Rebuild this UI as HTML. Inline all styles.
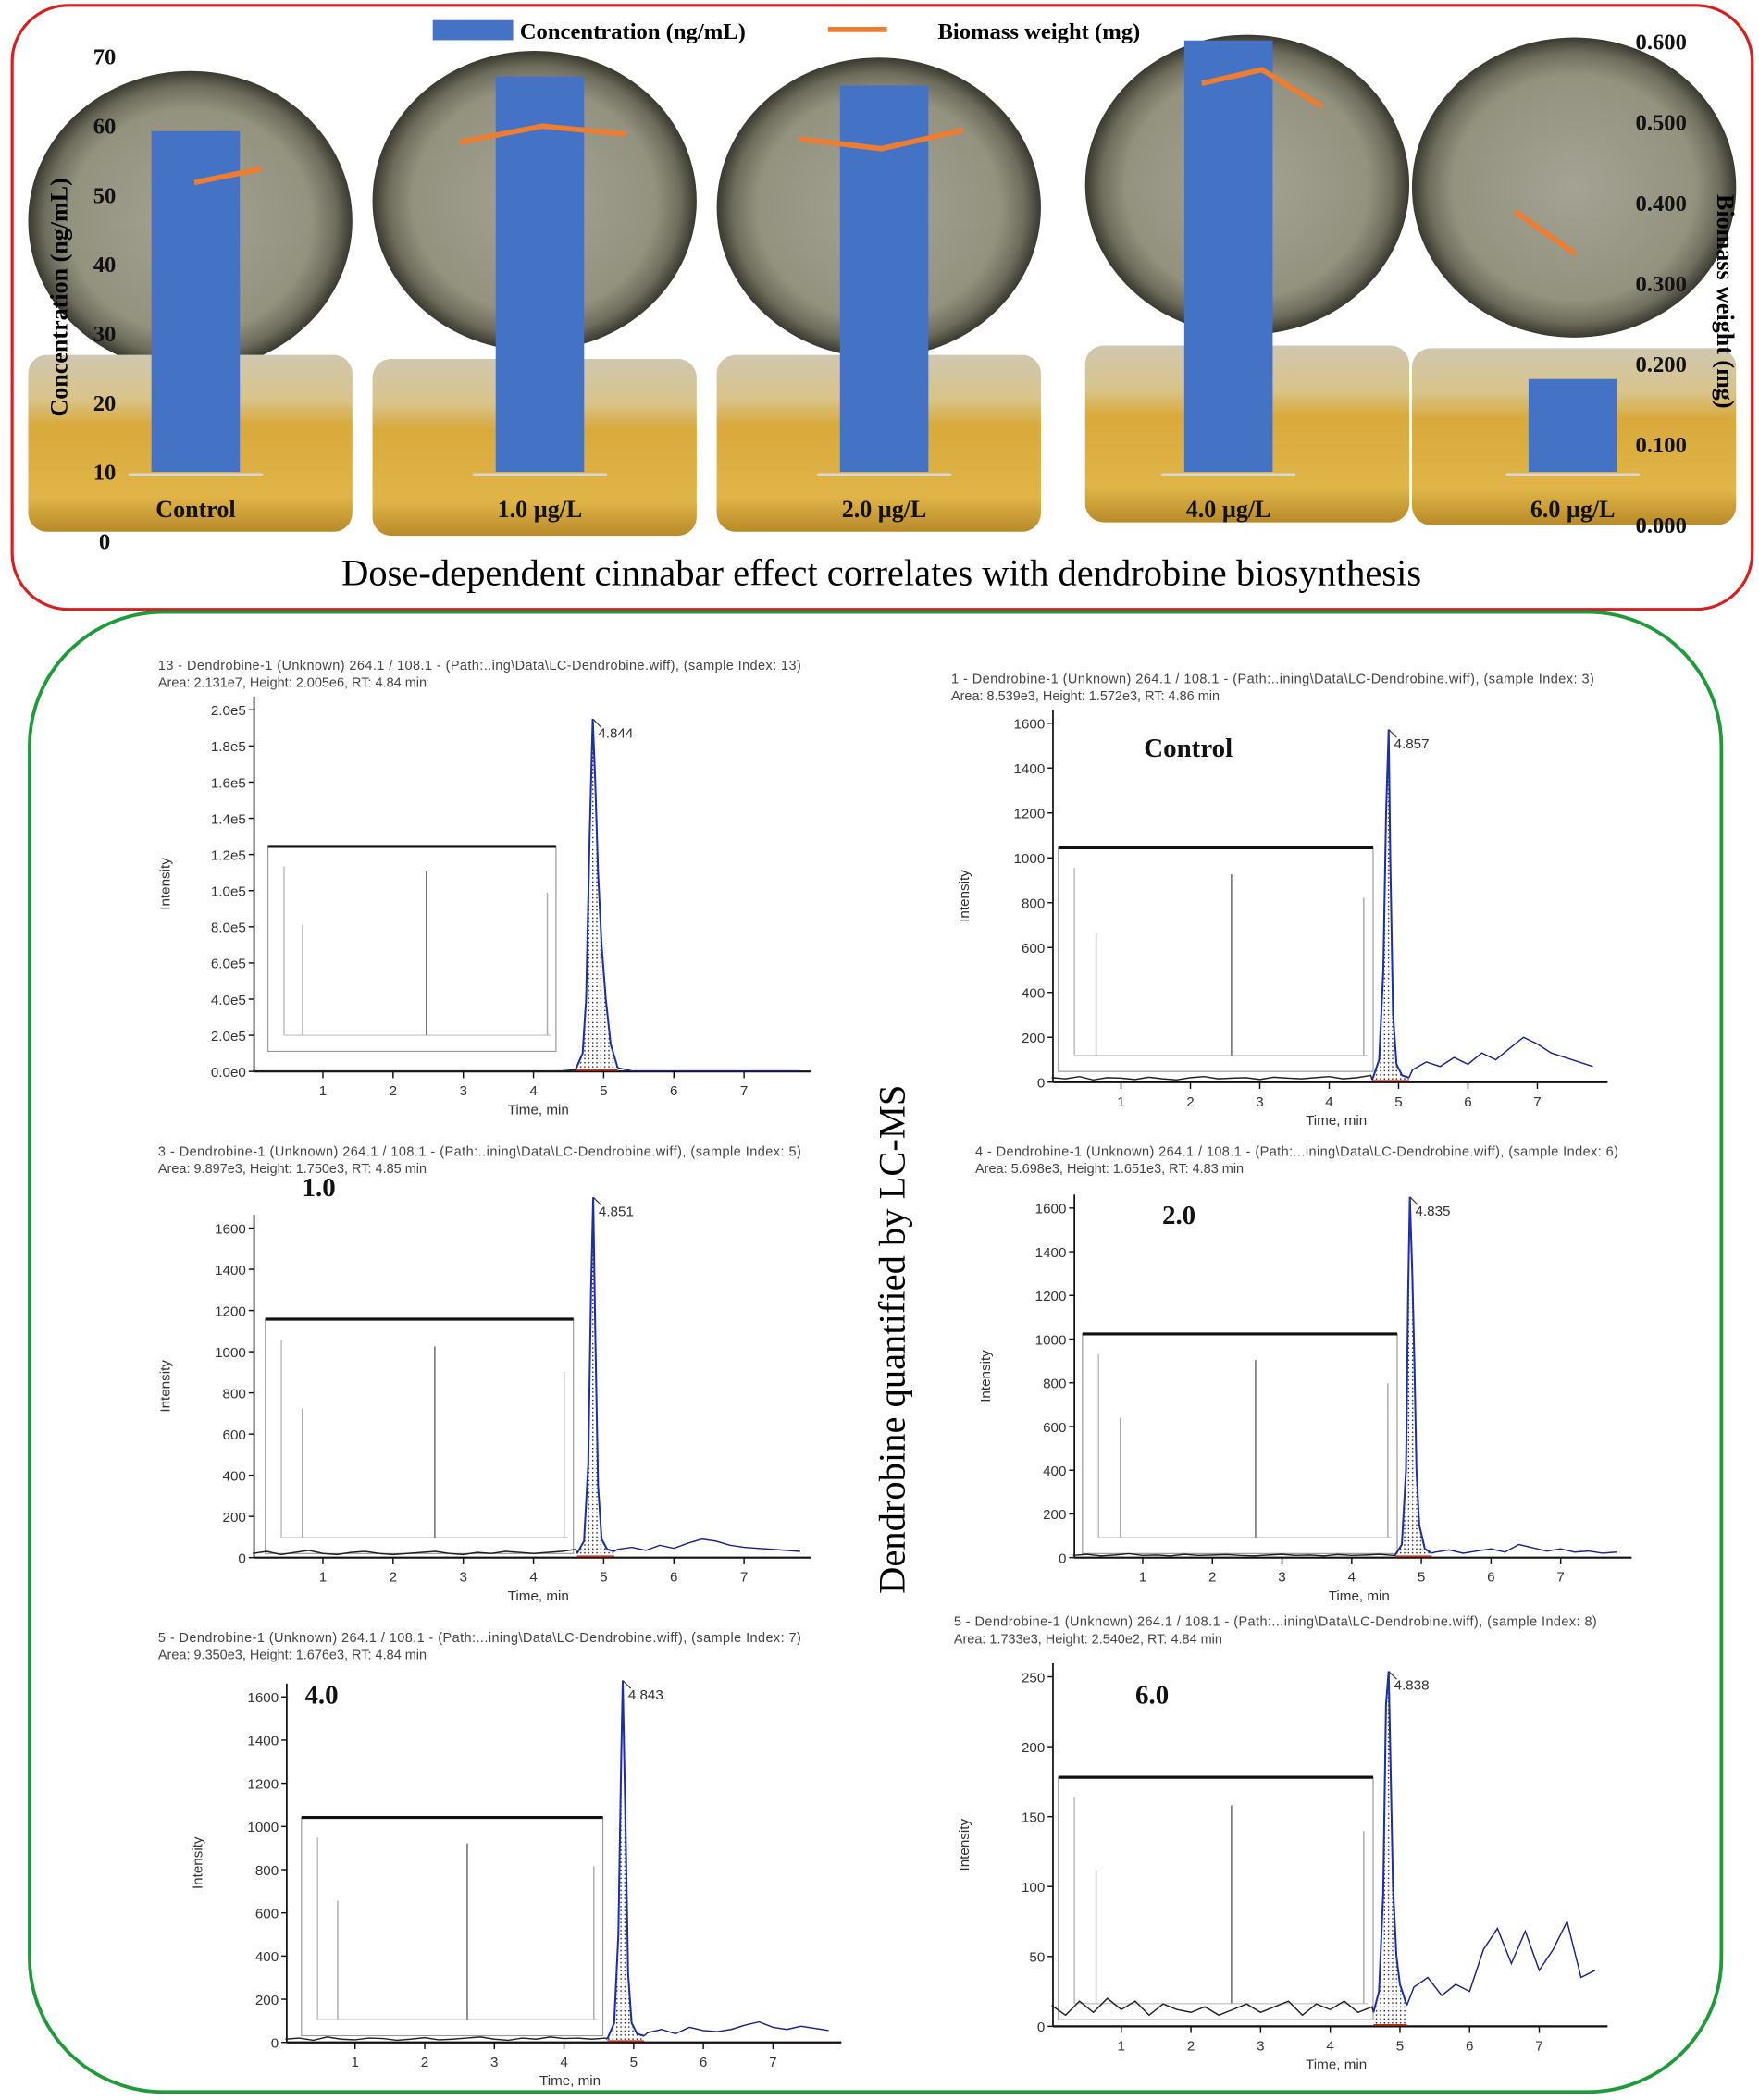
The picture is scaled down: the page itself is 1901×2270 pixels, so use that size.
<!DOCTYPE html>
<html><head><meta charset="utf-8"><title>Cinnabar dose effect and dendrobine LC-MS</title>
<style>
html,body{margin:0;padding:0;background:#fff;}
svg{display:block;}
.ser{font-family:"Liberation Serif",serif;}
.sans{font-family:"Liberation Sans",sans-serif;}
</style></head>
<body>
<svg id="fig" width="1901" height="2270" viewBox="0 0 1313 1568" xmlns="http://www.w3.org/2000/svg">
<defs>
<radialGradient id="dish" cx="50%" cy="50%" r="50%">
<stop offset="0" stop-color="#a4a394"/><stop offset="0.75" stop-color="#93927f"/><stop offset="0.9" stop-color="#6e6c5c"/><stop offset="1" stop-color="#3a3930"/>
</radialGradient>
<linearGradient id="beaker" x1="0" y1="0" x2="0" y2="1">
<stop offset="0" stop-color="#cfc7b0"/><stop offset="0.25" stop-color="#d8c48a"/><stop offset="0.4" stop-color="#d9a93c"/><stop offset="0.8" stop-color="#e0b548"/><stop offset="1" stop-color="#b88a2a"/>
</linearGradient>
<pattern id="dots" width="3" height="3" patternUnits="userSpaceOnUse"><circle cx="1.5" cy="1.5" r="0.55" fill="#222"/></pattern>
</defs>
<rect x="0" y="0" width="1313" height="1568" fill="#fff"/>
<rect x="9" y="4" width="1299" height="451" rx="42" fill="none" stroke="#d42020" stroke-width="2.2"/>
<rect x="22" y="457" width="1263" height="1105" rx="100" fill="none" stroke="#1f9a3a" stroke-width="2.6"/>
<g id="photos"></g>
<g id="topchart"></g>
<text class="ser" x="658" y="437" font-size="28" text-anchor="middle">Dose-dependent cinnabar effect correlates with dendrobine biosynthesis</text>
<text class="ser" x="0" y="0" font-size="28" text-anchor="middle" transform="translate(675,1000) rotate(-90)">Dendrobine quantified by LC-MS</text>
<g id="chroms"></g>
</svg>
<script>
// ---------- TOP CHART DATA ----------
const categories = ["Control", "1.0 µg/L", "2.0 µg/L", "4.0 µg/L", "6.0 µg/L"];
const concValues = [59.2, 67.1, 65.8, 72.3, 23.4];
const concTicks = [0, 10, 20, 30, 40, 50, 60, 70];
const bioTicks = [0, 0.1, 0.2, 0.3, 0.4, 0.5, 0.6];
const bioControl = [0.425, 0.442];
const bio1 = [0.475, 0.495, 0.485];
const bio2 = [0.479, 0.467, 0.490];
const bio4 = [0.548, 0.565, 0.519];
const bio6 = [0.389, 0.336];
const bioSeries = [bioControl, bio1, bio2, bio4, bio6];

const NS = "http://www.w3.org/2000/svg";
function mk(tag, attrs, parent) {
  const e = document.createElementNS(NS, tag);
  for (const k in attrs) e.setAttribute(k, attrs[k]);
  parent.appendChild(e);
  return e;
}
const yConc = v => 404 - v * 5.17;
const yBio = v => 392 - v * 601.7;
const xBand = i => 146 + i * 257;

// photos
const photos = document.getElementById('photos');
const dishTop = [55, 40, 45, 28, 30];
const beakTop = [265, 268, 265, 258, 260];
for (let i = 0; i < 5; i++) {
  const cx = xBand(i) - 4 + (i === 3 ? 18 : 0) + (i === 4 ? 5 : 0);
  const d = mk('ellipse', {cx: cx, cy: dishTop[i] + 110, rx: 121, ry: 112, fill: 'url(#dish)'}, photos);
  
  
  const b = mk('rect', {x: cx - 121, y: beakTop[i], width: 242, height: 132, rx: 14, fill: 'url(#beaker)'}, photos);
  
  
}

const tc = document.getElementById('topchart');
concTicks.forEach(v => {
  const t = mk('text', {x: 78, y: yConc(v) + 6, 'font-size': 17, 'font-weight': 'bold', 'text-anchor': 'middle', class: 'ser', fill: '#111'}, tc);
  t.textContent = v;
  
  
});
bioTicks.forEach(v => {
  const t = mk('text', {x: 1240, y: yBio(v) + 6, 'font-size': 17, 'font-weight': 'bold', 'text-anchor': 'middle', class: 'ser', fill: '#111'}, tc);
  t.textContent = v.toFixed(3);
  
  
});
let lt = mk('text', {x: 0, y: 0, 'font-size': 18, 'font-weight': 'bold', 'text-anchor': 'middle', class: 'ser', transform: 'translate(50,222) rotate(-90)'}, tc);
lt.textContent = 'Concentration (ng/mL)';


let rt = mk('text', {x: 0, y: 0, 'font-size': 18, 'font-weight': 'bold', 'text-anchor': 'middle', class: 'ser', transform: 'translate(1282,225) rotate(90)'}, tc);
rt.textContent = 'Biomass weight (mg)';



const base = 10;
concValues.forEach((v, i) => {
  const cx = xBand(i);
  const bl = mk('line', {x1: cx - 50, x2: cx + 50, y1: yConc(base) + 2, y2: yConc(base) + 2, stroke: '#d8d8d8', 'stroke-width': 2}, tc);
  
  
  const r = mk('rect', {x: cx - 33, y: yConc(v), width: 66, height: yConc(base) - yConc(v), fill: '#4472c4'}, tc);
  
  
  const t = mk('text', {x: cx, y: 386, 'font-size': 18, 'font-weight': 'bold', 'text-anchor': 'middle', class: 'ser', fill: '#111'}, tc);
  t.textContent = categories[i];
  
  
});
const bioStart = [-1, -60, -63, -20, -43];
const bioStep = [50, 62, 61, 45, 45];
bioSeries.forEach((s, i) => {
  const pts = s.map((v, j) => (xBand(i) + bioStart[i] + j * bioStep[i]) + ',' + yBio(v)).join(' ');
  const p = mk('polyline', {points: pts, fill: 'none', stroke: '#ed7d31', 'stroke-width': 4}, tc);
  
  
});
let lg = mk('g', {}, tc);


let lr = mk('rect', {x: 323, y: 15, width: 60, height: 15, fill: '#4472c4'}, lg);


let ltx = mk('text', {x: 388, y: 29, 'font-size': 17, 'font-weight': 'bold', class: 'ser'}, lg);
ltx.textContent = 'Concentration (ng/mL)';


let ll = mk('line', {x1: 618, x2: 662, y1: 22, y2: 22, stroke: '#ed7d31', 'stroke-width': 4}, lg);


let ltx2 = mk('text', {x: 700, y: 29, 'font-size': 17, 'font-weight': 'bold', class: 'ser'}, lg);
ltx2.textContent = 'Biomass weight (mg)';



// ---------- CHROMATOGRAM DATA ----------
const xTicks = [1, 2, 3, 4, 5, 6, 7];
const ticksP1 = [0, 0.2, 0.4, 0.6, 0.8, 1.0, 1.2, 1.4, 1.6, 1.8, 2.0];
const tickLabelsP1 = ["0.0e0", "2.0e5", "4.0e5", "6.0e5", "8.0e5", "1.0e5", "1.2e5", "1.4e5", "1.6e5", "1.8e5", "2.0e5"];
const ticks1600 = [0, 200, 400, 600, 800, 1000, 1200, 1400, 1600];
const ticksP6 = [0, 50, 100, 150, 200, 250];
const noiseP1 = [0.003,0.003,0.003,0.003,0.003,0.003,0.003,0.003,0.003,0.003,0.003,0.003,0.003,0.003,0.003,0.003,0.003,0.003,0.003,0.003,0.003,0.003,0.003,0.003,0.003,0.003,0.003,0.003,0.003,0.003,0.003,0.003,0.003,0.003,0.003,0.003,0.003,0.003,0.003,0.003];
const noiseP2 = [20,15,25,10,20,18,12,22,15,10,20,25,15,18,20,12,22,18,15,20,25,15,20,30,0,0,55,90,70,110,80,130,100,150,200,170,130,110,90,70];
const noiseP3 = [20,30,15,25,35,20,15,25,30,20,15,20,25,30,20,15,25,20,30,25,20,25,30,40,0,0,40,50,35,60,45,70,90,80,60,50,45,40,35,30];
const noiseP4 = [10,15,8,12,18,10,12,8,15,10,12,14,10,8,12,15,10,12,8,14,10,12,15,10,0,0,25,35,20,30,40,25,60,45,30,40,25,30,20,25];
const noiseP5 = [15,20,10,25,15,12,20,18,10,15,22,12,15,20,25,15,10,20,15,25,18,20,15,20,0,0,45,60,40,70,55,50,60,80,95,70,60,75,65,55];
const noiseP6 = [15,8,18,10,20,12,18,8,16,12,10,14,8,12,16,10,14,18,8,16,12,18,10,14,0,0,28,35,22,30,25,55,70,45,68,40,55,75,35,40];
const peakTP1 = [4.6,4.7,4.75,4.8,4.844,4.88,4.92,4.97,5.03,5.1,5.2];
const peakIP1 = [0.01,0.1,0.4,1.3,1.95,1.6,1.1,0.7,0.4,0.15,0.02];
const peakTP2 = [4.62,4.72,4.78,4.82,4.857,4.88,4.92,4.97,5.05,5.15];
const peakIP2 = [10,100,500,1200,1572,1000,300,80,30,20];
const peakTP3 = [4.62,4.72,4.78,4.82,4.851,4.88,4.92,4.97,5.05,5.15];
const peakIP3 = [20,80,450,1300,1750,1100,350,90,40,30];
const peakTP4 = [4.62,4.72,4.78,4.81,4.835,4.87,4.9,4.93,4.97,5.05,5.15];
const peakIP4 = [10,60,400,1200,1651,1300,900,400,150,40,20];
const peakTP5 = [4.62,4.72,4.78,4.82,4.843,4.88,4.92,4.97,5.05,5.15];
const peakIP5 = [15,90,500,1300,1676,1050,320,90,40,30];
const peakTP6 = [4.62,4.7,4.76,4.8,4.838,4.86,4.9,4.95,5.0,5.1];
const peakIP6 = [10,25,95,230,254,200,100,50,30,15];
const insetLines = [0.12, 0.55, 0.97];

const panels = [
 {x0: 188.6, ppm: 52.4, right: 605, bottom: 800, ypx: 270, yv: 2.0, ticks: ticksP1, labels: tickLabelsP1, noise: noiseP1, pt: peakTP1, pi: peakIP1, hx: 118, hy: 500,
  h1: "13 - Dendrobine-1 (Unknown) 264.1 / 108.1 - (Path:..ing\\Data\\LC-Dendrobine.wiff), (sample Index: 13)", h2: "Area: 2.131e7, Height: 2.005e6, RT: 4.84 min", peak: "4.844", tag: "", tx: 0, ty: 0, inset: [200, 632, 215, 153], name: 'chromatogram-standard'},
 {x0: 785, ppm: 51.8, right: 1200, bottom: 808, ypx: 268, yv: 1600, ticks: ticks1600, labels: ticks1600, noise: noiseP2, pt: peakTP2, pi: peakIP2, hx: 710, hy: 510,
  h1: "1 - Dendrobine-1 (Unknown) 264.1 / 108.1 - (Path:..ining\\Data\\LC-Dendrobine.wiff), (sample Index: 3)", h2: "Area: 8.539e3, Height: 1.572e3, RT: 4.86 min", peak: "4.857", tag: "Control", tx: 887, ty: 565, inset: [790, 633, 235, 167], name: 'chromatogram-control'},
 {x0: 188.6, ppm: 52.4, right: 605, bottom: 1163, ypx: 246, yv: 1600, ticks: ticks1600, labels: ticks1600, noise: noiseP3, pt: peakTP3, pi: peakIP3, hx: 118, hy: 863,
  h1: "3 - Dendrobine-1 (Unknown) 264.1 / 108.1 - (Path:..ining\\Data\\LC-Dendrobine.wiff), (sample Index: 5)", h2: "Area: 9.897e3, Height: 1.750e3, RT: 4.85 min", peak: "4.851", tag: "1.0", tx: 238, ty: 893, inset: [198, 985, 230, 175], name: 'chromatogram-1-0'},
 {x0: 801, ppm: 52, right: 1218, bottom: 1163, ypx: 261, yv: 1600, ticks: ticks1600, labels: ticks1600, noise: noiseP4, pt: peakTP4, pi: peakIP4, hx: 728, hy: 863,
  h1: "4 - Dendrobine-1 (Unknown) 264.1 / 108.1 - (Path:...ining\\Data\\LC-Dendrobine.wiff), (sample Index: 6)", h2: "Area: 5.698e3, Height: 1.651e3, RT: 4.83 min", peak: "4.835", tag: "2.0", tx: 880, ty: 914, inset: [808, 996, 235, 164], name: 'chromatogram-2-0'},
 {x0: 213, ppm: 52, right: 628, bottom: 1525, ypx: 258, yv: 1600, ticks: ticks1600, labels: ticks1600, noise: noiseP5, pt: peakTP5, pi: peakIP5, hx: 118, hy: 1226,
  h1: "5 - Dendrobine-1 (Unknown) 264.1 / 108.1 - (Path:...ining\\Data\\LC-Dendrobine.wiff), (sample Index: 7)", h2: "Area: 9.350e3, Height: 1.676e3, RT: 4.84 min", peak: "4.843", tag: "4.0", tx: 240, ty: 1272, inset: [225, 1357, 225, 163], name: 'chromatogram-4-0'},
 {x0: 785, ppm: 52, right: 1200, bottom: 1513, ypx: 261, yv: 250, ticks: ticksP6, labels: ticksP6, noise: noiseP6, pt: peakTP6, pi: peakIP6, hx: 712, hy: 1214,
  h1: "5 - Dendrobine-1 (Unknown) 264.1 / 108.1 - (Path:...ining\\Data\\LC-Dendrobine.wiff), (sample Index: 8)", h2: "Area: 1.733e3, Height: 2.540e2, RT: 4.84 min", peak: "4.838", tag: "6.0", tx: 860, ty: 1272, inset: [790, 1327, 235, 181], name: 'chromatogram-6-0'}
];

const ch = document.getElementById('chroms');
panels.forEach(P => {
  const g = mk('g', {}, ch);
  
  
  const X = t => P.x0 + t * P.ppm;
  const Y = v => P.bottom - v / P.yv * P.ypx;
  const topY = Y(P.ticks[P.ticks.length - 1]) - 10;
  const h1 = mk('text', {x: P.hx, y: P.hy, 'font-size': 10, class: 'sans', fill: '#444', textLength: 480}, g);
  h1.textContent = P.h1;
  
  
  const h2 = mk('text', {x: P.hx, y: P.hy + 13, 'font-size': 10, class: 'sans', fill: '#444'}, g);
  h2.textContent = P.h2;
  
  
  const [ix, iy, iw, ih] = P.inset;
  const ir = mk('rect', {x: ix, y: iy, width: iw, height: ih, fill: '#fff', stroke: '#999', 'stroke-width': 0.8}, g);
  
  
  const itop = mk('line', {x1: ix, x2: ix + iw, y1: iy, y2: iy, stroke: '#111', 'stroke-width': 2.2}, g);
  
  
  const iax = mk('line', {x1: ix + 12, x2: ix + 12, y1: iy + 15, y2: iy + ih - 12, stroke: '#bbb', 'stroke-width': 1}, g);
  
  
  const ibx = mk('line', {x1: ix + 12, x2: ix + iw - 4, y1: iy + ih - 12, y2: iy + ih - 12, stroke: '#ccc', 'stroke-width': 1}, g);
  
  
  const ihs = [0.62, 0.92, 0.8];
  insetLines.forEach((f, k) => {
    const l = mk('line', {x1: ix + iw * f, x2: ix + iw * f, y1: iy + ih - 12 - (ih - 20) * ihs[k], y2: iy + ih - 12, stroke: k === 1 ? '#666' : '#aaa', 'stroke-width': 1}, g);
    
    
  });
  const ya = mk('line', {x1: P.x0 + 1, x2: P.x0 + 1, y1: topY, y2: P.bottom, stroke: '#111', 'stroke-width': 1.2}, g);
  
  
  const xa = mk('line', {x1: P.x0 + 1, x2: P.right, y1: P.bottom, y2: P.bottom, stroke: '#111', 'stroke-width': 1.5}, g);
  
  
  P.ticks.forEach((v, k) => {
    const tk = mk('line', {x1: P.x0 - 3, x2: P.x0 + 1, y1: Y(v), y2: Y(v), stroke: '#111'}, g);
    
    
    const tl = mk('text', {x: P.x0 - 5, y: Y(v) + 4, 'font-size': 10.5, 'text-anchor': 'end', class: 'sans', fill: '#333'}, g);
    tl.textContent = P.labels[k];
    
    
  });
  xTicks.forEach(t => {
    const tk = mk('line', {x1: X(t), x2: X(t), y1: P.bottom, y2: P.bottom + 5, stroke: '#111'}, g);
    
    
    const tl = mk('text', {x: X(t), y: P.bottom + 18, 'font-size': 10.5, 'text-anchor': 'middle', class: 'sans', fill: '#333'}, g);
    tl.textContent = t;
    
    
  });
  const xt = mk('text', {x: (P.x0 + P.right) / 2 + 5, y: P.bottom + 32, 'font-size': 10.5, 'text-anchor': 'middle', class: 'sans', fill: '#333'}, g);
  xt.textContent = 'Time, min';
  
  
  const yt = mk('text', {x: 0, y: 0, 'font-size': 10.5, 'text-anchor': 'middle', class: 'sans', fill: '#333', transform: `translate(${P.x0 - 62},${(topY + P.bottom) / 2}) rotate(-90)`}, g);
  yt.textContent = 'Intensity';
  
  
  const pre = [], post = [];
  P.noise.forEach((v, k) => {
    const t = k * 0.2;
    if (t < P.pt[0] - 0.01) pre.push(X(t) + ',' + Y(v));
    else if (t > P.pt[P.pt.length - 1] + 0.01) post.push(X(t) + ',' + Y(v));
  });
  pre.push(X(P.pt[0]) + ',' + Y(P.pi[0]));
  post.unshift(X(P.pt[P.pt.length - 1]) + ',' + Y(P.pi[P.pi.length - 1]));
  const n1 = mk('polyline', {points: pre.join(' '), fill: 'none', stroke: '#222', 'stroke-width': 1}, g);
  
  
  const n2 = mk('polyline', {points: post.join(' '), fill: 'none', stroke: '#1a237e', 'stroke-width': 1}, g);
  
  
  const pk = P.pt.map((t, k) => X(t) + ',' + Y(P.pi[k]));
  const area = [X(P.pt[0]) + ',' + P.bottom].concat(pk, [X(P.pt[P.pt.length - 1]) + ',' + P.bottom]);
  const pa = mk('polygon', {points: area.join(' '), fill: 'url(#dots)', stroke: 'none'}, g);
  
  
  const pl = mk('polyline', {points: pk.join(' '), fill: 'none', stroke: '#1c2fa8', 'stroke-width': 1.4}, g);
  
  
  const rb = mk('line', {x1: X(P.pt[0]), x2: X(P.pt[P.pt.length - 1]), y1: P.bottom - 1, y2: P.bottom - 1, stroke: '#c03020', 'stroke-width': 1.2}, g);
  
  
  let ki = 0;
  P.pi.forEach((v, k) => { if (v > P.pi[ki]) ki = k; });
  const pxp = X(P.pt[ki]), pyp = Y(P.pi[ki]);
  const lab = mk('text', {x: pxp + 4, y: pyp + 14, 'font-size': 10.5, class: 'sans', fill: '#333'}, g);
  lab.textContent = P.peak;
  
  
  const tick = mk('line', {x1: pxp, x2: pxp + 6, y1: pyp, y2: pyp + 6, stroke: '#333', 'stroke-width': 0.8}, g);
  
  
  if (P.tag) {
    const tg = mk('text', {x: P.tx, y: P.ty, 'font-size': 20, 'font-weight': 'bold', 'text-anchor': 'middle', class: 'ser', fill: '#111'}, g);
    tg.textContent = P.tag;
    
    
  }
});
</script>
</body></html>
